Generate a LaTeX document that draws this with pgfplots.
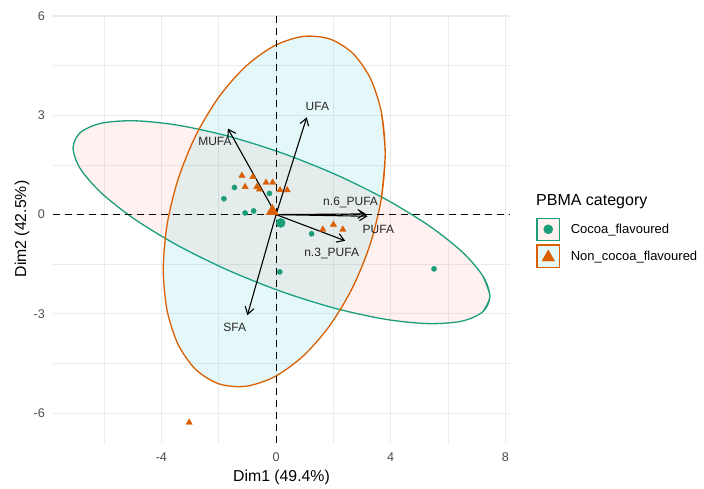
\documentclass[border=0pt]{standalone}
\usepackage{fontspec}
\setmainfont{Liberation Sans}
\usepackage{pgfplots}
\pgfplotsset{compat=1.18}
\usetikzlibrary{arrows.meta}
\definecolor{cocoa}{HTML}{1B9E77}
\definecolor{noncocoa}{HTML}{D95F02}
\definecolor{pinkf}{HTML}{F8766D}
\definecolor{cyanf}{HTML}{00BFC4}
\definecolor{gridc}{HTML}{EBEBEB}
\definecolor{tickc}{HTML}{4D4D4D}
\definecolor{pinkkey}{HTML}{FEF1F0}
\definecolor{cyankey}{HTML}{E6F9F9}
\begin{document}
\begin{tikzpicture}
\path[use as bounding box] (0,0) rectangle (704pt,489pt);
\begin{axis}[
 at={(53pt,46pt)}, anchor=south west, scale only axis, width=457pt, height=428pt,
 xmin=-7.78, xmax=8.16, ymin=-6.90, ymax=6.03,
 axis line style={draw=none}, major tick style={draw=none}, minor tick style={draw=none},
 xtick={-4,0,4,8}, ytick={-6,-3,0,3,6},
 minor xtick={-6,-2,2,6}, minor ytick={-4.5,-1.5,1.5,4.5},
 grid=both, major grid style={gridc, line width=1.1pt}, minor grid style={gridc, line width=0.55pt},
 /pgf/number format/assume math mode=true,
 tick label style={font=\fontsize{12.6}{14}\selectfont, text=tickc, inner sep=0pt},
 xticklabel style={anchor=center, yshift=-14pt},
 yticklabel style={anchor=east, xshift=-8pt},
 xlabel={Dim1 (49.4\%)}, ylabel={Dim2 (42.5\%)},
 label style={font=\fontsize{15.8}{18}\selectfont},
 xlabel style={at={(axis description cs:0.5,-0.0794)}, anchor=center},
 ylabel style={at={(axis description cs:-0.0678,0.5)}, anchor=center},
 legend style={at={(1.0575,0.5273)}, anchor=north west, draw=none, fill=none, inner sep=0pt,
   row sep=3.3pt, column sep=10.7pt, nodes={inner sep=0pt, anchor=west},
   font=\fontsize{13}{15}\selectfont},
 legend cell align=left,
]
% confidence ellipses
\addplot[forget plot, smooth, draw=cocoa, line width=1.3pt, fill=pinkf, fill opacity=0.1, draw opacity=1]
 coordinates {(7.212,-2.936) (7.46,-2.47) (7.212,-1.852) (6.486,-1.122) (5.331,-0.333) (3.825,0.464) (2.071,1.214) (0.19,1.865) (-1.691,2.374) (-3.445,2.704) (-4.951,2.835) (-6.106,2.758) (-6.832,2.476) (-7.08,2.01) (-6.832,1.392) (-6.106,0.662) (-4.951,-0.127) (-3.445,-0.924) (-1.691,-1.674) (0.19,-2.325) (2.071,-2.834) (3.825,-3.164) (5.331,-3.295) (6.486,-3.218) (7.212,-2.936) (7.46,-2.47) (7.212,-1.852)};
\addplot[forget plot, smooth, draw=noncocoa, line width=1.3pt, fill=cyanf, fill opacity=0.1, draw opacity=1]
 coordinates {(3.675,0.5) (3.807,1.854) (3.675,3.088) (3.288,4.119) (2.673,4.875) (1.872,5.306) (0.939,5.382) (-0.063,5.097) (-1.065,4.472) (-1.998,3.548) (-2.799,2.391) (-3.414,1.075) (-3.801,-0.306) (-3.933,-1.66) (-3.801,-2.894) (-3.414,-3.925) (-2.799,-4.681) (-1.998,-5.112) (-1.065,-5.188) (-0.063,-4.903) (0.939,-4.278) (1.872,-3.354) (2.673,-2.197) (3.288,-0.881) (3.675,0.5) (3.807,1.854) (3.675,3.088)};
% reference lines
\addplot[forget plot, black, line width=1.1pt, dash pattern=on 7pt off 5pt] coordinates {(-7.78,0) (8.16,0)};
\addplot[forget plot, black, line width=1.1pt, dash pattern=on 7pt off 5pt] coordinates {(0,-6.9) (0,6.03)};
% individuals
\addplot[only marks, mark=*, mark size=2.6pt, color=cocoa,
 legend image code/.code={
   \draw[draw=cocoa, fill=pinkkey, line width=1.2pt] (0pt,-11.2pt) rectangle (22.4pt,11.2pt);
   \fill[cocoa] (11.2pt,0pt) circle (4.6pt);}]
 coordinates {(-1.82,0.48) (-1.45,0.82) (-1.08,0.05) (-0.78,0.11) (-0.23,0.64) (1.24,-0.58) (0.13,-1.73) (5.51,-1.64)};
\addlegendentry{Cocoa\_flavoured}
\addplot[only marks, mark=triangle*, mark size=3.6pt, color=noncocoa,
 legend image code/.code={
   \draw[draw=noncocoa, fill=cyankey, line width=1.2pt] (0pt,-11.2pt) rectangle (22.4pt,11.2pt);
   \fill[noncocoa] (4.9pt,-4.8pt) -- (17.5pt,-4.8pt) -- (11.2pt,6.3pt) -- cycle;}]
 coordinates {(-1.19,1.18) (-0.81,1.14) (-1.08,0.84) (-0.67,0.84) (-0.58,0.76) (-0.35,0.97) (-0.12,0.97) (0.14,0.74) (0.39,0.74) (1.63,-0.45) (2.0,-0.30) (2.33,-0.45) (-3.03,-6.28)};
\addlegendentry{Non\_cocoa\_flavoured}
% group centroids
\addplot[forget plot, only marks, mark=*, mark size=4.6pt, color=cocoa] coordinates {(0.16,-0.25)};
\addplot[forget plot, only marks, mark=triangle*, mark size=7pt, color=noncocoa] coordinates {(-0.13,0.10)};
% variable arrows
\addplot[forget plot, black, line width=1.1pt, -{Straight Barb[length=7pt,width=9pt]}] coordinates {(0,0) (1.07,2.94)};
\addplot[forget plot, black, line width=1.1pt, -{Straight Barb[length=7pt,width=9pt]}] coordinates {(0,0) (-1.68,2.60)};
\addplot[forget plot, black, line width=1.1pt, -{Straight Barb[length=7pt,width=9pt]}] coordinates {(0,0) (-1.0,-3.04)};
\addplot[forget plot, black, line width=1.1pt, -{Straight Barb[length=7pt,width=9pt]}] coordinates {(0,0) (3.19,-0.05)};
\addplot[forget plot, black, line width=1.1pt, -{Straight Barb[length=7pt,width=9pt]}] coordinates {(0,0) (3.13,0.02)};
\addplot[forget plot, black, line width=1.1pt, -{Straight Barb[length=7pt,width=9pt]}] coordinates {(0,0) (2.41,-0.79)};
\node[font=\fontsize{12}{14}\selectfont, text=black!85] at (axis cs:1.44,3.28) {UFA};
\node[font=\fontsize{12}{14}\selectfont, text=black!85] at (axis cs:-2.13,2.22) {MUFA};
\node[font=\fontsize{12}{14}\selectfont, text=black!85] at (axis cs:-1.44,-3.42) {SFA};
\node[font=\fontsize{12}{14}\selectfont, text=black!85] at (axis cs:3.57,-0.45) {PUFA};
\node[font=\fontsize{12}{14}\selectfont, text=black!85] at (axis cs:2.6,0.38) {n.6\_PUFA};
\node[font=\fontsize{12}{14}\selectfont, text=black!85] at (axis cs:1.94,-1.17) {n.3\_PUFA};
\end{axis}
\node[anchor=west, inner sep=0pt, font=\fontsize{16}{18}\selectfont] at (536pt,287.3pt) {PBMA category};
\end{tikzpicture}
\end{document}
